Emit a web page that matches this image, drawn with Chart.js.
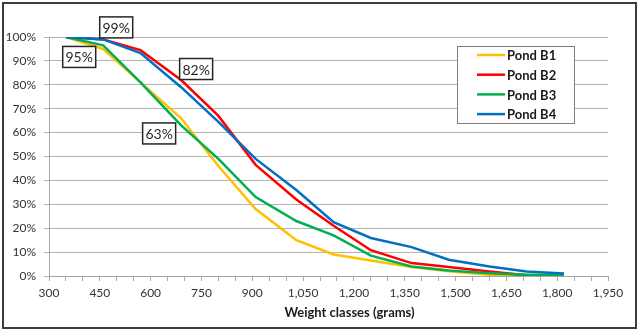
<!DOCTYPE html>
<html>
<head>
<meta charset="utf-8">
<script src="https://cdn.jsdelivr.net/npm/chart.js@4"></script>
<style>
  html, body { margin: 0; padding: 0; background: #fff; }
  #wrap { width: 640px; height: 334px; position: relative; }
</style>
</head>
<body>
<div id="wrap"><canvas id="weightChart"></canvas></div>
<script>
// Cumulative share of fish above each weight class, per pond
const weightClasses = [350, 460, 570, 690, 800, 910, 1030, 1140, 1250, 1370, 1480, 1600, 1710, 1820];
const pondB1 = [100, 95, 81, 66, 46, 28, 15, 9, 6.5, 3.8, 2, 0.5, 0, 0];
const pondB2 = [100, 99, 94.5, 82, 67, 46.5, 32, 21, 10.8, 5.4, 3.8, 1.9, 0.3, 0];
const pondB3 = [100, 96.5, 81, 63, 49, 33, 23, 17, 8.5, 4, 2.3, 1.2, 0.5, 0.5];
const pondB4 = [100, 99, 93.3, 79, 64.5, 49, 36, 22.5, 15.9, 12.1, 6.8, 4, 1.9, 1];

const seriesNames = ['Pond B1', 'Pond B2', 'Pond B3', 'Pond B4'];
const seriesColors = ['#ffc000', '#ff0000', '#00b050', '#0070c0'];
const yTicks = [0, 10, 20, 30, 40, 50, 60, 70, 80, 90, 100];

// labelled points: [series index, point index]
const callouts = [[1, 1], [0, 1], [1, 3], [2, 3]];
const calloutOffsets = [[13, -12], [-24, 8], [15, -11], [-22, 8]];

const FONT = 'Lato, "Open Sans", sans-serif';

function pts(arr) {
  return weightClasses.map((x, i) => ({ x: x, y: arr[i] }));
}

const frame = {
  id: 'frame',
  beforeDraw(chart) {
    const c = chart.ctx;
    c.save();
    c.fillStyle = '#fff';
    c.fillRect(0, 0, chart.width, chart.height);
    c.restore();
  },
  afterDraw(chart) {
    const c = chart.ctx;
    const area = chart.chartArea;
    c.save();

    // outer border
    c.strokeStyle = '#3c3c3c';
    c.lineWidth = 2;
    c.strokeRect(3, 3, 633, 325);

    // callout boxes
    c.font = '14px ' + FONT;
    c.textAlign = 'center';
    c.textBaseline = 'middle';
    callouts.forEach((cl, k) => {
      const ds = chart.data.datasets[cl[0]];
      const p = ds.data[cl[1]];
      const px = chart.scales.x.getPixelForValue(p.x) + calloutOffsets[k][0];
      const py = chart.scales.y.getPixelForValue(p.y) + calloutOffsets[k][1];
      const w = 33, h = 21;
      c.fillStyle = '#fff';
      c.fillRect(px - w / 2, py - h / 2, w, h);
      c.strokeStyle = '#262626';
      c.lineWidth = 1.5;
      c.strokeRect(px - w / 2, py - h / 2, w, h);
      c.fillStyle = '#262626';
      c.fillText(p.y + '%', px, py + 1);
    });

    // legend box
    const lx = 457, ly = 46, lw = 117, lh = 77;
    c.fillStyle = '#fff';
    c.fillRect(lx, ly, lw, lh);
    c.strokeStyle = '#7f7f7f';
    c.lineWidth = 1;
    c.strokeRect(lx + 0.5, ly + 0.5, lw, lh);
    c.font = 'bold 13px ' + FONT;
    c.textAlign = 'left';
    chart.data.datasets.forEach((ds, i) => {
      const y = 55 + i * 19.7;
      c.strokeStyle = ds.borderColor;
      c.lineWidth = 2.5;
      c.beginPath();
      c.moveTo(477, y);
      c.lineTo(505, y);
      c.stroke();
      c.fillStyle = '#1a1a1a';
      c.fillText(ds.label, 507, y + 1);
    });

    // x axis title
    c.font = 'bold 13px ' + FONT;
    c.textAlign = 'center';
    c.fillStyle = '#1a1a1a';
    c.fillText('Weight classes (grams)', (area.left + area.right) / 2 + 21, 313);
    c.restore();
  }
};

const datasets = [pondB1, pondB2, pondB3, pondB4].map((arr, i) => ({
  label: seriesNames[i],
  data: pts(arr),
  borderColor: seriesColors[i],
  backgroundColor: seriesColors[i],
  borderWidth: 2.5,
  pointRadius: 0,
  showLine: true,
  tension: 0,
  order: 3 - i
}));

new Chart(document.getElementById('weightChart'), {
  type: 'scatter',
  data: { datasets: datasets },
  options: {
    responsive: true,
    maintainAspectRatio: false,
    animation: false,
    layout: { padding: { top: 37, right: 32, left: 0, bottom: 0 } },
    plugins: {
      legend: { display: false },
      tooltip: { enabled: false }
    },
    scales: {
      x: {
        type: 'linear',
        min: 300,
        max: 1950,
        afterBuildTicks(scale) {
          const t = [];
          for (let v = 300; v <= 1950; v += 50) t.push({ value: v });
          scale.ticks = t;
        },
        afterFit(scale) { scale.height = 58; },
        ticks: {
          autoSkip: false,
          maxRotation: 0,
          padding: 5,
          color: '#333',
          font: { family: FONT, size: 12 },
          callback: v => ((v - 300) % 150 === 0 ? v.toLocaleString('en-US') : '')
        },
        grid: { drawOnChartArea: false, drawTicks: true, tickLength: 5, color: '#a6a6a6' },
        border: { color: '#a6a6a6', width: 1 }
      },
      y: {
        min: 0,
        max: 100,
        afterBuildTicks(scale) {
          scale.ticks = yTicks.map(v => ({ value: v }));
        },
        afterFit(scale) { scale.width = 49; },
        ticks: {
          padding: 8,
          color: '#333',
          font: { family: FONT, size: 12 },
          callback: v => v + '%'
        },
        grid: { color: '#b3b3b3', tickLength: 5 },
        border: { color: '#a6a6a6', width: 1 }
      }
    }
  },
  plugins: [frame]
});
</script>
</body>
</html>
